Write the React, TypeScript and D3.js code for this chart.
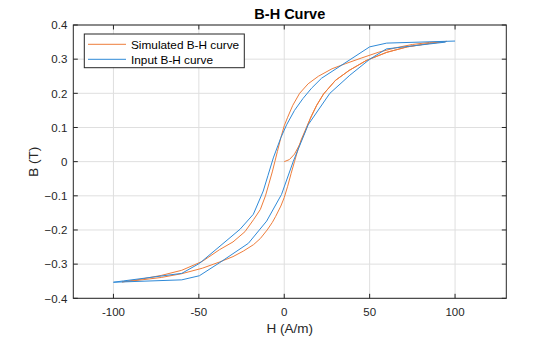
import React from "react";
import * as d3 from "d3";

// Simulated B-H curve (orange): initial magnetization, descending branch, ascending branch
const simInitialH = [0, 3, 6, 9, 12, 15, 19, 23, 30, 38, 48, 60, 72, 85, 95];
const simInitialB = [0, 0.006, 0.022, 0.05, 0.085, 0.123, 0.165, 0.198, 0.238, 0.267, 0.296, 0.32, 0.336, 0.346, 0.352];

const simDescH = [95, 85, 75, 65, 55, 45, 36, 28, 20, 14, 9, 5, 2, 0, -2, -4, -5.5, -7, -9, -11, -14, -18, -23, -30, -38, -48, -60, -72, -85, -95];
const simDescB = [0.352, 0.349, 0.343, 0.333, 0.32, 0.303, 0.287, 0.272, 0.25, 0.228, 0.2, 0.165, 0.13, 0.105, 0.07, 0.03, 0, -0.03, -0.065, -0.1, -0.14, -0.17, -0.205, -0.235, -0.258, -0.292, -0.318, -0.333, -0.345, -0.352];

const simAscH = [-95, -85, -72, -60, -48, -38, -30, -24, -18, -14, -10, -7, -5, -2, 0, 2, 4, 6, 8, 10, 13, 16, 19, 23, 30, 38, 48, 60, 72, 85, 95];
const simAscB = [-0.352, -0.347, -0.339, -0.328, -0.312, -0.294, -0.278, -0.262, -0.243, -0.225, -0.2, -0.178, -0.16, -0.13, -0.105, -0.072, -0.035, 0, 0.035, 0.065, 0.1, 0.135, 0.165, 0.198, 0.238, 0.267, 0.296, 0.32, 0.336, 0.346, 0.352];

// Input B-H curve (blue), piecewise linear loop
const inDescH = [100, 60, 50, 21.8, 16, 11, 6, 1.4, -2, -6.4, -9.5, -12.3, -18.1, -25.9, -49.7, -60, -94];
const inDescB = [0.353, 0.347, 0.336, 0.244, 0.215, 0.185, 0.15, 0.108, 0.07, 0.011, -0.04, -0.086, -0.154, -0.198, -0.298, -0.327, -0.349];

const inAscH = [-100, -60, -49.7, -37.6, -21, -10.3, -1.6, 5.3, 14, 26.7, 38.4, 50.1, 59.8, 94.5];
const inAscB = [-0.353, -0.346, -0.334, -0.295, -0.239, -0.174, -0.096, 0.001, 0.108, 0.2, 0.253, 0.3, 0.33, 0.35];

const xTicks = [-100, -50, 0, 50, 100];
const yTicks = [-0.4, -0.3, -0.2, -0.1, 0, 0.1, 0.2, 0.3, 0.4];
const xDomain = [-123.5, 130];
const yDomain = [-0.4, 0.4];

const legendLabels = ["Simulated B-H curve", "Input B-H curve"];
const ORANGE = "#EE7D3B";
const BLUE = "#2F8AD8";

export default function App() {
  const W = 560, H = 337;
  const L = 73.3, R = 506.3, T = 25, B = 298.3;
  const x = d3.scaleLinear().domain(xDomain).range([L, R]);
  const y = d3.scaleLinear().domain(yDomain).range([B, T]);
  const line = d3.line<[number, number]>().x(d => x(d[0])).y(d => y(d[1]));

  const zip = (hs: number[], bs: number[]) => hs.map((h, i) => [h, bs[i]] as [number, number]);
  const simPts = [...zip(simInitialH, simInitialB), ...zip(simDescH, simDescB), ...zip(simAscH, simAscB)];
  const inPts = [...zip(inDescH, inDescB), ...zip(inAscH, inAscB)];

  const font = "'Liberation Sans', Arial, Helvetica, sans-serif";
  const tickColor = "#262626";
  const gridColor = "#dfdfdf";

  return (
    <svg width={W} height={H} style={{ position: "absolute", left: 0, top: 0, background: "#fff" }} fontFamily={font}>
      <rect x={0} y={0} width={W} height={H} fill="#fff" />
      {/* grid */}
      {xTicks.map(t => (
        <line key={"gx" + t} x1={x(t)} x2={x(t)} y1={T} y2={B} stroke={gridColor} strokeWidth={1} />
      ))}
      {yTicks.map(t => (
        <line key={"gy" + t} x1={L} x2={R} y1={y(t)} y2={y(t)} stroke={gridColor} strokeWidth={1} />
      ))}
      {/* curves */}
      <path d={line(simPts) || ""} fill="none" stroke={ORANGE} strokeWidth={1} strokeLinejoin="round" />
      <path d={line(inPts) || ""} fill="none" stroke={BLUE} strokeWidth={1} strokeLinejoin="round" />
      {/* axes box */}
      <rect x={L} y={T} width={R - L} height={B - T} fill="none" stroke={tickColor} strokeWidth={1} />
      {xTicks.map(t => (
        <g key={"tx" + t}>
          <line x1={x(t)} x2={x(t)} y1={B} y2={B - 4.5} stroke={tickColor} />
          <line x1={x(t)} x2={x(t)} y1={T} y2={T + 4.5} stroke={tickColor} />
          <text x={x(t)} y={B + 18} textAnchor="middle" fontSize={11.5} fill={tickColor}>{t}</text>
        </g>
      ))}
      {yTicks.map(t => (
        <g key={"ty" + t}>
          <line x1={L} x2={L + 4.5} y1={y(t)} y2={y(t)} stroke={tickColor} />
          <line x1={R} x2={R - 4.5} y1={y(t)} y2={y(t)} stroke={tickColor} />
          <text x={L - 6} y={y(t) + 4.2} textAnchor="end" fontSize={11.5} fill={tickColor}>{t === 0 ? "0" : d3.format(".1f")(t)}</text>
        </g>
      ))}
      {/* labels */}
      <text x={(L + R) / 2} y={19} textAnchor="middle" fontSize={14.5} fontWeight="bold" fill="#000">B-H Curve</text>
      <text x={(L + R) / 2} y={333} textAnchor="middle" fontSize={13.5} fill={tickColor}>H (A/m)</text>
      <text transform={`translate(${38},${(T + B) / 2}) rotate(-90)`} textAnchor="middle" fontSize={13.5} fill={tickColor}>B (T)</text>
      {/* legend */}
      <rect x={84.3} y={34} width={160} height={33.7} fill="#fff" stroke={tickColor} strokeWidth={1} />
      {legendLabels.map((lab, i) => (
        <g key={lab}>
          <line x1={88} x2={126} y1={44.3 + i * 15} y2={44.3 + i * 15} stroke={i === 0 ? ORANGE : BLUE} strokeWidth={1} />
          <text x={131} y={44.3 + i * 15 + 4.2} fontSize={11.8} fill="#000">{lab}</text>
        </g>
      ))}
    </svg>
  );
}
